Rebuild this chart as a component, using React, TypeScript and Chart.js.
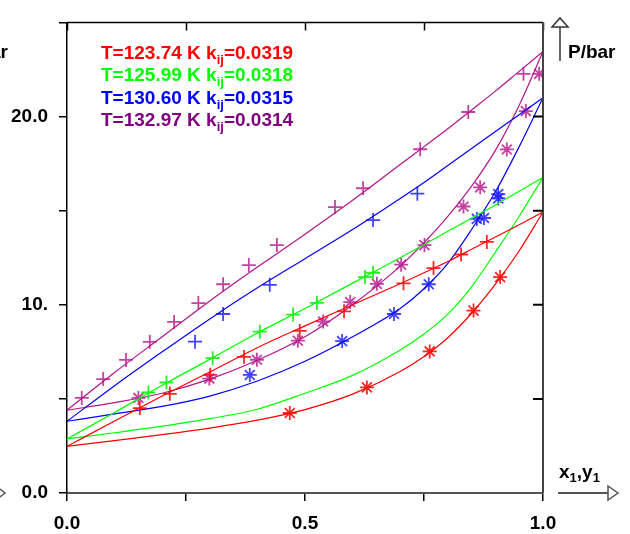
import { useEffect, useRef } from 'react';
import { Chart, registerables } from 'chart.js';
Chart.register(...registerables);

// composition grid for model curves (x1 or y1)
const gridX = [0, 0.1, 0.2, 0.3, 0.4, 0.5, 0.6, 0.7, 0.75, 0.8, 0.85, 0.9, 0.95, 1.0];

// model curves, P/bar
const redBubble = [2.48, 3.82, 5.15, 6.43, 7.72, 8.88, 10.0, 11.12, 11.7, 12.3, 12.95, 13.6, 14.25, 14.93];
const redDew = [2.48, 2.78, 3.1, 3.45, 3.87, 4.43, 5.25, 6.45, 7.25, 8.25, 9.55, 11.1, 12.87, 14.93];
const greenBubble = [2.87, 4.28, 5.72, 7.1, 8.5, 9.8, 11.15, 12.5, 13.2, 13.9, 14.6, 15.3, 16.03, 16.77];
const greenDew = [2.87, 3.2, 3.55, 3.95, 4.45, 5.3, 6.25, 7.6, 8.45, 9.5, 10.95, 12.8, 14.7, 16.77];
const blueBubble = [3.81, 5.7, 7.5, 9.25, 10.9, 12.45, 14.0, 15.65, 16.5, 17.4, 18.3, 19.2, 20.1, 21.0];
const blueDew = [3.81, 4.2, 4.6, 5.15, 5.95, 7.0, 8.3, 9.8, 10.85, 12.2, 14.0, 16.0, 18.4, 21.0];
const purpleBubble = [4.4, 6.4, 8.3, 10.2, 12.0, 13.75, 15.55, 17.45, 18.4, 19.35, 20.35, 21.35, 22.4, 23.45];
const purpleDew = [4.4, 4.8, 5.3, 6.05, 7.05, 8.3, 10.0, 12.05, 13.3, 14.7, 16.3, 18.2, 20.6, 23.45];

// experimental bubble points (x1, P)
const redExpX = [0.153, 0.216, 0.301, 0.372, 0.489, 0.582, 0.707, 0.770, 0.828, 0.882];
const redExpXP = [4.51, 5.27, 6.28, 7.23, 8.61, 9.65, 11.14, 11.95, 12.67, 13.34];
const greenExpX = [0.171, 0.209, 0.306, 0.405, 0.475, 0.525, 0.626, 0.643];
const greenExpXP = [5.34, 5.87, 7.16, 8.57, 9.48, 10.10, 11.47, 11.70];
const blueExpX = [0.269, 0.328, 0.426, 0.643, 0.736];
const blueExpXP = [8.04, 9.51, 11.06, 14.50, 15.90];
const purpleExpX = [0.031, 0.076, 0.124, 0.174, 0.225, 0.276, 0.328, 0.382, 0.441, 0.563, 0.622, 0.742, 0.843, 0.959];
const purpleExpXP = [5.05, 6.05, 7.07, 8.03, 9.09, 10.09, 11.09, 12.11, 13.17, 15.19, 16.19, 18.26, 20.24, 22.27];

// experimental dew points (y1, P)
const redExpY = [0.468, 0.630, 0.762, 0.854, 0.910];
const redExpYP = [4.25, 5.61, 7.52, 9.69, 11.47];
const blueExpY = [0.384, 0.578, 0.687, 0.760, 0.861, 0.876, 0.906, 0.906];
const blueExpYP = [6.27, 8.07, 9.51, 11.09, 14.56, 14.61, 15.88, 15.65];
const purpleExpY = [0.150, 0.299, 0.399, 0.485, 0.538, 0.595, 0.651, 0.702, 0.751, 0.833, 0.868, 0.924, 0.964, 0.992];
const purpleExpYP = [5.05, 6.08, 7.08, 8.09, 9.11, 10.14, 11.11, 12.13, 13.17, 15.22, 16.24, 18.25, 20.29, 22.27];

const legendTemps = ['123.74', '125.99', '130.60', '132.97'];
const legendKij = ['0.0319', '0.0318', '0.0315', '0.0314'];
const legendColors = ['#ff0000', '#00ff00', '#0000ff', '#800080'];
const lineColors = ['#ff0000', '#00ff00', '#0000ff', '#b4148c'];
const markColors = ['rgba(255,0,0,0.85)', 'rgba(0,235,0,0.85)', 'rgba(20,20,255,0.8)', 'rgba(180,20,140,0.8)'];

const xTicks = [0, 0.25, 0.5, 0.75, 1.0];
const yTicks = [0, 5, 10, 15, 20, 25];
const xLabels: Record<string, string> = { '0': '0.0', '0.5': '0.5', '1': '1.0' };
const yLabels: Record<string, string> = { '0': '0.0', '10': '10.', '20': '20.0' };

const FONT = '"Liberation Sans", Arial, sans-serif';
const FS = 19;

function pts(xs: number[], ys: number[]) {
  return xs.map((x, i) => ({ x, y: ys[i] }));
}

export default function App() {
  const ref = useRef<HTMLCanvasElement | null>(null);
  useEffect(() => {
    const canvas = ref.current!;
    const curves = [
      [redBubble, redDew],
      [greenBubble, greenDew],
      [blueBubble, blueDew],
      [purpleBubble, purpleDew],
    ];
    const expBub = [
      [redExpX, redExpXP],
      [greenExpX, greenExpXP],
      [blueExpX, blueExpXP],
      [purpleExpX, purpleExpXP],
    ];
    const expDew: (number[][] | null)[] = [
      [redExpY, redExpYP],
      null,
      [blueExpY, blueExpYP],
      [purpleExpY, purpleExpYP],
    ];
    const datasets: any[] = [];
    for (let i = 0; i < 4; i++) {
      for (const c of curves[i]) {
        datasets.push({
          data: pts(gridX, c),
          borderColor: lineColors[i],
          borderWidth: 1.2,
          pointRadius: 0,
          showLine: true,
          fill: false,
          cubicInterpolationMode: 'monotone',
        });
      }
      datasets.push({
        data: pts(expBub[i][0], expBub[i][1]),
        showLine: false,
        pointStyle: 'cross',
        pointRadius: 7,
        pointBorderWidth: 1.8,
        pointBorderColor: markColors[i],
        borderColor: markColors[i],
      });
      const d = expDew[i];
      if (d) {
        datasets.push({
          data: pts(d[0], d[1]),
          showLine: false,
          pointStyle: 'star',
          pointRadius: 7,
          pointBorderWidth: 1.8,
          pointBorderColor: markColors[i],
          borderColor: markColors[i],
        });
      }
    }

    const decor = {
      id: 'decor',
      afterDraw(chart: any) {
        const { ctx, scales } = chart;
        const xs = scales.x;
        const ys = scales.y;
        const L = xs.getPixelForValue(0);
        const R = xs.getPixelForValue(1);
        const T = ys.getPixelForValue(25);
        const B = ys.getPixelForValue(0);
        ctx.save();
        // top frame and inward ticks
        ctx.strokeStyle = '#000';
        ctx.lineWidth = 1.5;
        ctx.beginPath();
        ctx.moveTo(L, T);
        ctx.lineTo(R, T);
        for (const v of xTicks) {
          const px = Math.round(xs.getPixelForValue(v)) + 0.5;
          ctx.moveTo(px, T);
          ctx.lineTo(px, T + 8);
        }
        ctx.stroke();
        // right frame
        ctx.strokeStyle = '#444';
        ctx.lineWidth = 2;
        ctx.beginPath();
        ctx.moveTo(R, T);
        ctx.lineTo(R, B);
        ctx.stroke();
        ctx.strokeStyle = '#000';
        ctx.lineWidth = 2;
        ctx.beginPath();
        for (const v of yTicks) {
          if (v === 0 || v === 25) continue;
          const py = ys.getPixelForValue(v);
          ctx.moveTo(R - 10, py);
          ctx.lineTo(R, py);
        }
        ctx.stroke();

        // legend
        ctx.textBaseline = 'alphabetic';
        ctx.textAlign = 'left';
        for (let i = 0; i < 4; i++) {
          const x0 = 101;
          const y0 = 58.5 + i * 22.6;
          ctx.fillStyle = legendColors[i];
          ctx.font = `bold ${FS}px ${FONT}`;
          const s1 = `T=${legendTemps[i]} K k`;
          ctx.fillText(s1, x0, y0);
          let w = ctx.measureText(s1).width;
          ctx.font = `bold 13px ${FONT}`;
          ctx.fillText('ij', x0 + w, y0 + 5);
          w += ctx.measureText('ij').width;
          ctx.font = `bold ${FS}px ${FONT}`;
          ctx.fillText(`=${legendKij[i]}`, x0 + w, y0);
        }

        // axis titles and arrows
        ctx.fillStyle = '#000';
        ctx.font = `bold ${FS}px ${FONT}`;
        ctx.fillText('P/bar', 568, 58);
        ctx.textAlign = 'right';
        ctx.fillText('P/bar', 8, 58);
        ctx.textAlign = 'left';

        // x1,y1 label
        let xx = 559;
        const by = 478;
        const part = (t: string, sub: boolean) => {
          ctx.font = sub ? `bold 13px ${FONT}` : `bold ${FS}px ${FONT}`;
          ctx.fillText(t, xx, sub ? by + 4 : by);
          xx += ctx.measureText(t).width;
        };
        part('x', false);
        part('1', true);
        part(',', false);
        part('y', false);
        part('1', true);

        ctx.strokeStyle = '#333';
        ctx.lineWidth = 1.5;
        // up arrow
        ctx.beginPath();
        ctx.moveTo(560, 61);
        ctx.lineTo(560, 27);
        ctx.stroke();
        ctx.beginPath();
        ctx.moveTo(552, 27);
        ctx.lineTo(560, 18);
        ctx.lineTo(568, 27);
        ctx.closePath();
        ctx.fillStyle = '#fff';
        ctx.fill();
        ctx.stroke();
        // right arrow
        ctx.strokeStyle = '#555';
        ctx.lineWidth = 2;
        ctx.beginPath();
        ctx.moveTo(558, B);
        ctx.lineTo(608, B);
        ctx.stroke();
        ctx.lineWidth = 1.5;
        ctx.beginPath();
        ctx.moveTo(608, B - 7);
        ctx.lineTo(618, B);
        ctx.lineTo(608, B + 7);
        ctx.closePath();
        ctx.fill();
        ctx.stroke();
        // cut-off arrow at left edge
        ctx.beginPath();
        ctx.moveTo(-4, B - 7);
        ctx.lineTo(5, B);
        ctx.lineTo(-4, B + 7);
        ctx.closePath();
        ctx.fill();
        ctx.stroke();
        ctx.restore();
      },
    };

    const chart = new Chart(canvas, {
      type: 'scatter',
      data: { datasets },
      options: {
        animation: false,
        responsive: false,
        devicePixelRatio: 1,
        layout: { padding: { left: 0, right: 87, top: 19, bottom: 0 } },
        plugins: { legend: { display: false }, tooltip: { enabled: false } },
        scales: {
          x: {
            type: 'linear',
            min: 0,
            max: 1,
            afterFit: (s: any) => { s.height = 41; },
            afterBuildTicks: (s: any) => { s.ticks = xTicks.map((v) => ({ value: v })); },
            border: { display: true, color: '#555', width: 2 },
            grid: { drawOnChartArea: false, drawTicks: true, tickLength: 8, color: '#000', lineWidth: 1.5 },
            ticks: {
              padding: 11,
              color: '#000',
              font: { family: FONT, size: FS, weight: 'bold' },
              maxRotation: 0,
              autoSkip: false,
              callback: (v: any) => xLabels[String(v)] ?? '',
            },
          },
          y: {
            type: 'linear',
            min: 0,
            max: 25,
            afterFit: (s: any) => { s.width = 67; },
            afterBuildTicks: (s: any) => { s.ticks = yTicks.map((v) => ({ value: v })); },
            border: { display: true, color: '#000', width: 1.5 },
            grid: { drawOnChartArea: false, drawTicks: true, tickLength: 8, color: '#000', lineWidth: 1.5 },
            ticks: {
              padding: 11,
              color: '#000',
              font: { family: FONT, size: FS, weight: 'bold' },
              autoSkip: false,
              callback: (v: any) => yLabels[String(v)] ?? '',
            },
          },
        },
      },
      plugins: [decor],
    });
    return () => chart.destroy();
  }, []);
  return (
    <div style={{ position: 'absolute', left: 0, top: 0, width: 630, height: 534, background: '#fff' }}>
      <canvas ref={ref} width={630} height={534} style={{ width: 630, height: 534, display: 'block' }} />
    </div>
  );
}
